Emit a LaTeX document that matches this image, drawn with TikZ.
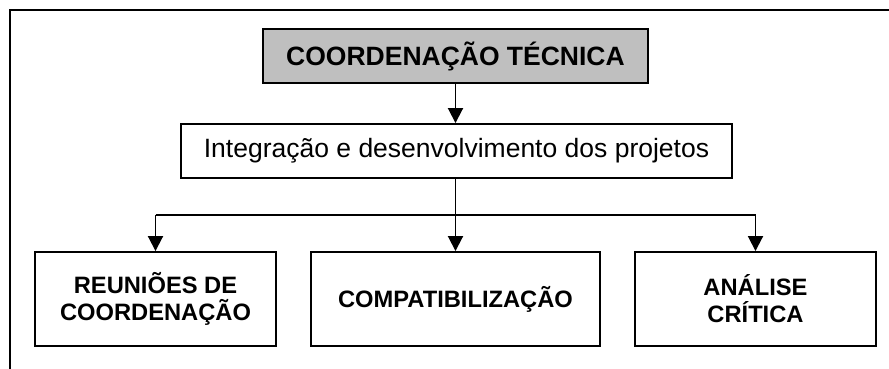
\documentclass[tikz,border=0pt]{standalone}
\usepackage{fontspec}
\setmainfont{Liberation Sans}
\usetikzlibrary{arrows.meta}
\begin{document}
\begin{tikzpicture}[x=1pt,y=-1pt,
  box/.style={draw=black,line width=1.9pt,inner sep=0pt,align=center,text=black},
  bigtxt/.style={font=\fontsize{26.5}{30}\selectfont},
  smalltxt/.style={font=\fontsize{23.7}{27}\selectfont\bfseries},
  arr/.style={line width=1.9pt,-{Triangle[length=15pt,width=15pt]}},
  ln/.style={line width=1.9pt}]
\useasboundingbox (0,0) rectangle (889,369);
\fill[white] (0,0) rectangle (889,369);
\coordinate (fa) at (10,369);
\coordinate (fb) at (10,10);
\coordinate (fc) at (889,10);
\draw[line width=1.9pt] (fa) -- (fb) -- (fc);
\node[box,font=\fontsize{26.5}{30}\selectfont\bfseries,fill=black!25,minimum width=385pt,minimum height=54pt] (top) at (455.5,56) {COORDENAÇÃO TÉCNICA};
\node[box,bigtxt,minimum width=551pt,minimum height=54pt] (mid) at (456.5,151) {Integração e desenvolvimento dos projetos};
\node[box,smalltxt,minimum width=241pt,minimum height=94pt] (b1) at (155.5,299) {REUNIÕES DE\\COORDENAÇÃO};
\node[box,smalltxt,minimum width=289pt,minimum height=94pt] (b2) at (455.5,299) {COMPATIBILIZAÇÃO};
\node[box,smalltxt,minimum width=241pt,minimum height=94pt] (b3) at (755.5,299) {ANÁLISE\\CRÍTICA};
\coordinate (j) at (455.5,215);
\draw[arr] (top.south) -- (top.south |- mid.north);
\draw[arr] (mid.south -| b2.north) -- (b2.north);
\draw[ln] (j -| b1.north) -- (j -| b3.north);
\draw[arr] (j -| b1.north) -- (b1.north);
\draw[arr] (j -| b3.north) -- (b3.north);
\end{tikzpicture}
\end{document}
